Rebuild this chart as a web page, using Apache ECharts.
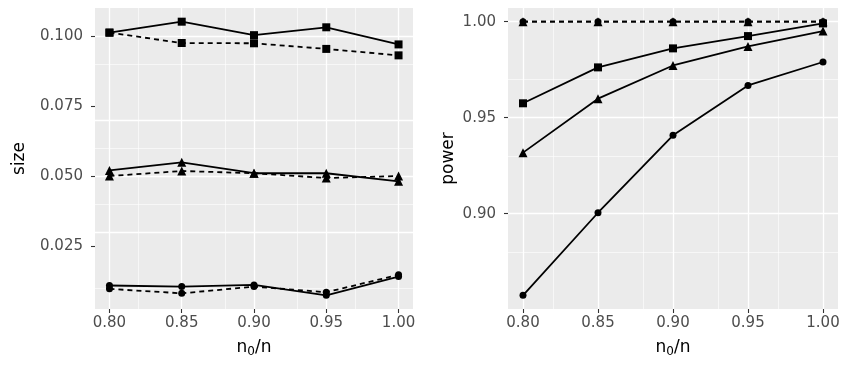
<!DOCTYPE html>
<html>
<head>
<meta charset="utf-8">
<script src="https://cdn.jsdelivr.net/npm/echarts@6/dist/echarts.min.js"></script>
<style>
html, body { margin: 0; padding: 0; background: #fff; }
#chart { width: 850px; height: 368px; }
</style>
</head>
<body>
<div id="chart"></div>
<script>
// x values (n0/n)
const ratios = [0.80, 0.85, 0.90, 0.95, 1.00];

// left panel: size
const sizeSqSolid  = [0.1012, 0.1051, 0.1003, 0.1031, 0.0970];
const sizeSqDash   = [0.1012, 0.0975, 0.0974, 0.0954, 0.0931];
const sizeTriSolid = [0.0521, 0.0550, 0.0511, 0.0511, 0.0482];
const sizeTriDash  = [0.0501, 0.0519, 0.0511, 0.0494, 0.0501];
const sizeCirSolid = [0.0111, 0.0107, 0.0113, 0.0076, 0.0143];
const sizeCirDash  = [0.0099, 0.0083, 0.0107, 0.0087, 0.0149];

// right panel: power
const powCirSolid = [0.8575, 0.9005, 0.9408, 0.9668, 0.9790];
const powTriSolid = [0.9318, 0.9599, 0.9772, 0.9871, 0.9951];
const powSqSolid  = [0.9575, 0.9762, 0.9861, 0.9925, 0.9991];
const powCirDash  = [1.0, 1.0, 1.0, 1.0, 1.0];
const powTriDash  = [1.0, 1.0, 1.0, 1.0, 1.0];

// ticks and grid
const xTicks = [0.80, 0.85, 0.90, 0.95, 1.00];
const xMinor = [0.825, 0.875, 0.925, 0.975];
const sizeTicks = [0.025, 0.050, 0.075, 0.100];
const sizeMinor = [0.0125, 0.0375, 0.0625, 0.0875];
const powTicks = [0.90, 0.95, 1.00];
const powMinor = [0.875, 0.925, 0.975];

const FONT = 'DejaVu Sans';

// ggplot-like 5% expansion
const expand = (arrs) => {
    const all = [].concat(...arrs);
    const lo = Math.min(...all), hi = Math.max(...all);
    const pad = (hi - lo) * 0.05;
    return [lo - pad, hi + pad];
};

const xLim = expand([ratios]);
const sizeLim = expand([sizeSqSolid, sizeSqDash, sizeTriSolid, sizeTriDash, sizeCirSolid, sizeCirDash]);
const powLim = expand([powCirSolid, powTriSolid, powSqSolid, powCirDash]);

const mkLine = (idx, values, symbol, dashed, symSize) => ({
    type: 'line',
    xAxisIndex: idx,
    yAxisIndex: idx,
    z: 3,
    data: ratios.map((r, i) => [r, values[i]]),
    symbol: symbol,
    symbolSize: symSize,
    showSymbol: true,
    itemStyle: { color: '#000' },
    lineStyle: { color: '#000', width: 1.8, type: dashed ? [5, 4] : 'solid' },
    emphasis: { disabled: true },
    animation: false
});

// white panel grid drawn as mark lines on an empty series
const gridSeries = (idx, yMajor, yMinor) => ({
    type: 'line',
    xAxisIndex: idx,
    yAxisIndex: idx,
    z: 1,
    data: [],
    markLine: {
        z: 1,
        silent: true,
        symbol: ['none', 'none'],
        label: { show: false },
        animation: false,
        lineStyle: { color: '#fff', type: 'solid', width: 1.3 },
        data: [].concat(
            xMinor.map(v => ({ xAxis: v, lineStyle: { width: 0.6, color: '#fff', type: 'solid' } })),
            yMinor.map(v => ({ yAxis: v, lineStyle: { width: 0.6, color: '#fff', type: 'solid' } })),
            xTicks.map(v => ({ xAxis: v, lineStyle: { width: 1.3, color: '#fff', type: 'solid' } })),
            yMajor.map(v => ({ yAxis: v, lineStyle: { width: 1.3, color: '#fff', type: 'solid' } }))
        )
    }
});

const tickStyle = { show: true, length: 4, lineStyle: { color: '#333', width: 1.1 } };
const labelStyle = { color: '#4d4d4d', fontSize: 15, fontFamily: FONT };

const mkX = (idx) => ({
    type: 'value',
    gridIndex: idx,
    min: xLim[0],
    max: xLim[1],
    splitLine: { show: false },
    axisLine: { show: false },
    axisTick: Object.assign({ customValues: xTicks }, tickStyle),
    axisLabel: Object.assign({ customValues: xTicks, margin: 7, formatter: v => v.toFixed(2) }, labelStyle),
    name: '{a|n}{s|0}{a|/n}',
    nameLocation: 'middle',
    nameGap: 28,
    nameTextStyle: {
        rich: {
            a: { fontSize: 17, fontFamily: FONT, color: '#000' },
            s: { fontSize: 12, fontFamily: FONT, color: '#000', padding: [9, 0, 0, 0] }
        }
    }
});

const mkY = (idx, lim, ticks, digits, name, gap) => ({
    type: 'value',
    gridIndex: idx,
    min: lim[0],
    max: lim[1],
    splitLine: { show: false },
    axisLine: { show: false },
    axisTick: Object.assign({ customValues: ticks }, tickStyle),
    axisLabel: Object.assign({ customValues: ticks, margin: 12, formatter: v => v.toFixed(digits) }, labelStyle),
    name: name,
    nameLocation: 'middle',
    nameGap: gap,
    nameTextStyle: { fontSize: 17, fontFamily: FONT, color: '#000' }
});

const chart = echarts.init(document.getElementById('chart'), null, { renderer: 'canvas' });

chart.setOption({
    animation: false,
    backgroundColor: '#fff',
    grid: [
        { left: 95, right: 437, top: 8, bottom: 59, show: true, backgroundColor: '#ebebeb', borderWidth: 0 },
        { left: 508, right: 12, top: 8, bottom: 59, show: true, backgroundColor: '#ebebeb', borderWidth: 0 }
    ],
    xAxis: [mkX(0), mkX(1)],
    yAxis: [
        mkY(0, sizeLim, sizeTicks, 3, 'size', 67),
        mkY(1, powLim, powTicks, 2, 'power', 51)
    ],
    series: [
        gridSeries(0, sizeTicks, sizeMinor),
        gridSeries(1, powTicks, powMinor),
        mkLine(0, sizeSqDash, 'rect', true, 8),
        mkLine(0, sizeSqSolid, 'rect', false, 8),
        mkLine(0, sizeTriDash, 'triangle', true, 9),
        mkLine(0, sizeTriSolid, 'triangle', false, 9),
        mkLine(0, sizeCirDash, 'circle', true, 7),
        mkLine(0, sizeCirSolid, 'circle', false, 7),
        mkLine(1, powCirSolid, 'circle', false, 7),
        mkLine(1, powTriSolid, 'triangle', false, 9),
        mkLine(1, powSqSolid, 'rect', false, 8),
        mkLine(1, powCirDash, 'circle', true, 7),
        mkLine(1, powTriDash, 'triangle', true, 9)
    ]
});
</script>
</body>
</html>
